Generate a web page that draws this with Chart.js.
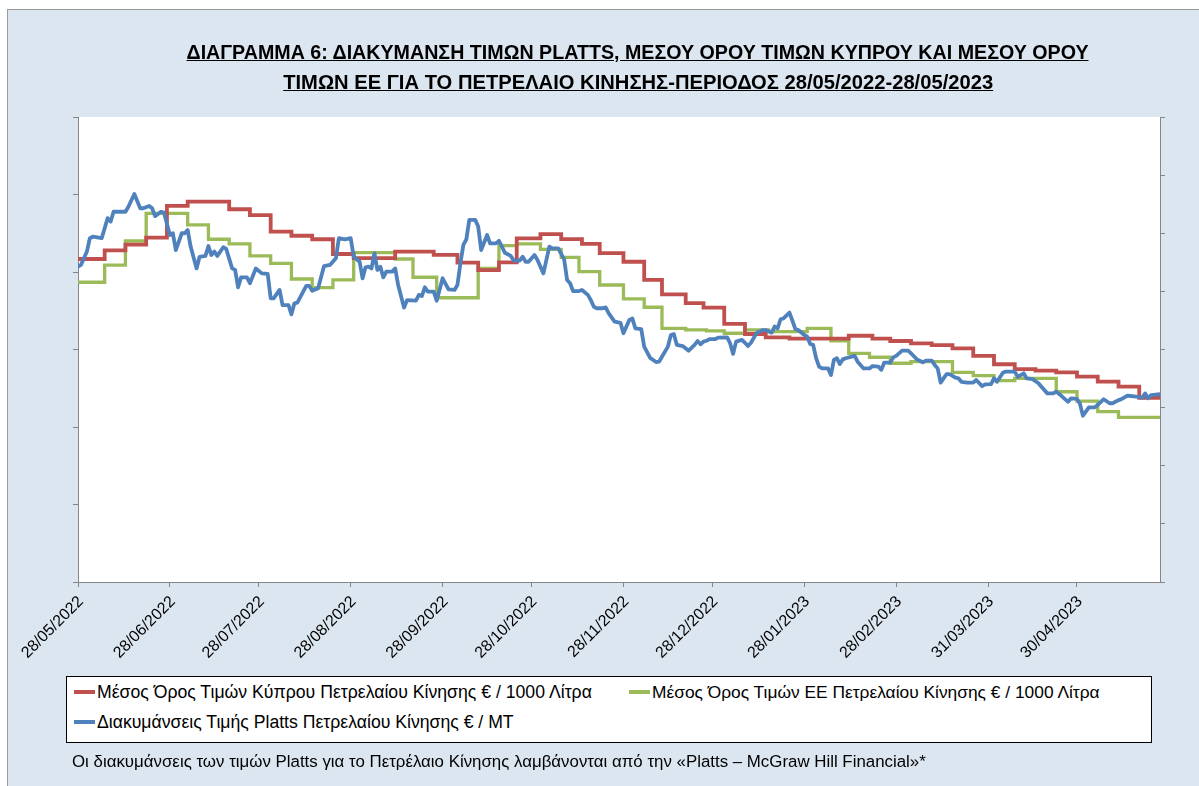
<!DOCTYPE html>
<html>
<head>
<meta charset="utf-8">
<script src="https://cdn.jsdelivr.net/npm/chart.js@4.4.0/dist/chart.umd.min.js"></script>
<style>
html,body{margin:0;padding:0;background:#fff;width:1199px;height:786px;overflow:hidden;font-family:"Liberation Sans",Arial,sans-serif;color:#000;}
#frame{position:absolute;left:7px;top:9px;width:1300px;height:900px;background:#DCE6F1;border-left:1.5px solid #9a9a9a;border-top:1.5px solid #9a9a9a;}
#c{position:absolute;left:0;top:0;}
.tline{position:absolute;left:0;width:1276px;text-align:center;white-space:nowrap;}
.tline span{display:inline-block;font-weight:bold;text-decoration:underline;font-size:19.5px;line-height:24px;transform-origin:50% 50%;}
#legend{position:absolute;left:66px;top:676px;width:1086px;height:67px;box-sizing:border-box;border:1px solid #000;background:#fff;}
.item{position:absolute;height:20px;display:flex;align-items:center;white-space:nowrap;}
.sw{width:21px;height:4px;margin-right:2px;}
.item span,.note span{display:inline-block;font-size:15px;line-height:20px;}
.note{position:absolute;left:72px;top:752px;height:20px;white-space:nowrap;}
</style>
</head>
<body>
<div id="frame"></div>
<canvas id="c" width="1199" height="786"></canvas>
<div class="tline" style="top:40px"><span id="t1"></span></div>
<div class="tline" style="top:70px"><span id="t2"></span></div>
<div id="legend"></div>
<div class="note"><span id="note"></span></div>
<script>
// ---- text ----
const titleLines = [
  'ΔΙΑΓΡΑΜΜΑ 6: ΔΙΑΚΥΜΑΝΣΗ ΤΙΜΩΝ PLATTS, ΜΕΣΟΥ ΟΡΟΥ ΤΙΜΩΝ ΚΥΠΡΟΥ ΚΑΙ ΜΕΣΟΥ ΟΡΟΥ',
  'ΤΙΜΩΝ ΕΕ ΓΙΑ ΤΟ ΠΕΤΡΕΛΑΙΟ ΚΙΝΗΣΗΣ-ΠΕΡΙΟΔΟΣ 28/05/2022-28/05/2023'
];
const seriesLabels = [
  'Μέσος Όρος Τιμών Κύπρου Πετρελαίου Κίνησης  € / 1000 Λίτρα',
  'Μέσος Όρος Τιμών ΕΕ Πετρελαίου Κίνησης  € / 1000 Λίτρα',
  'Διακυμάνσεις Τιμής Platts Πετρελαίου Κίνησης € / MT'
];
const footnote = 'Οι διακυμάνσεις των τιμών Platts για το Πετρέλαιο Κίνησης λαμβάνονται από την «Platts – McGraw Hill Financial»*';

// ---- axis ----
const tickLabels = ['28/05/2022','28/06/2022','28/07/2022','28/08/2022','28/09/2022','28/10/2022',
  '28/11/2022','28/12/2022','28/01/2023','28/02/2023','31/03/2023','30/04/2023'];
const startDate = '28/05/2022';
const endDate = '28/05/2023';

// ---- data (x = days since 28/05/2022) ----
const cyprusDays = [0,9,16,23,30,37,51,58,65,72,79,86,93,107,120,128,135,142,148,156,163,170,176,184,191,197,205,211,218,225,232,240,260,268,274,281,288,295,302,309,316,323,330,337,344,351,358,365];
const cyprusValues = [1667,1712,1741,1777,1941,1963,1924,1894,1808,1787,1769,1693,1672,1705,1688,1648,1610,1650,1774,1796,1770,1745,1697,1653,1559,1485,1439,1416,1332,1280,1263,1256,1271,1256,1244,1232,1223,1206,1167,1124,1099,1091,1082,1060,1034,1008,951,951];

const euDays = [0,9,16,23,37,44,51,58,65,72,79,86,93,107,113,121,135,142,148,156,163,169,176,184,191,197,205,212,218,225,233,246,254,260,267,274,281,295,302,309,316,330,337,344,351,365];
const euValues = [1547,1635,1760,1903,1843,1769,1745,1683,1645,1564,1519,1559,1700,1667,1573,1467,1619,1736,1745,1717,1676,1602,1533,1461,1418,1309,1301,1296,1284,1301,1292,1309,1245,1180,1160,1129,1137,1082,1065,1039,1051,982,934,879,850,850];

const plattsDays = [0,1,3,4,5,8,10,11,12,16,17,19,21,22,24,25,26,28,29,31,32,33,35,36,37,38,40,41,43,44,45,46,47,49,50,52,53,54,55,57,58,60,62,64,65,66,68,69,71,72,73,74,77,78,79,81,83,85,87,88,90,92,93,95,96,97,98,99,100,101,102,103,104,106,107,108,110,111,114,115,116,117,118,120,121,123,125,127,128,129,130,131,132,134,135,136,138,139,141,142,143,144,146,147,149,150,151,152,154,155,157,159,160,162,164,165,166,167,169,170,172,173,174,175,177,178,179,181,183,184,186,187,188,190,191,193,195,196,197,199,200,201,202,204,206,208,209,210,211,212,213,215,216,219,220,221,222,224,225,226,227,229,231,232,234,235,236,237,238,240,241,242,243,245,246,247,248,249,250,251,253,254,255,256,257,258,259,262,263,265,267,268,270,271,272,274,275,276,278,280,281,283,285,286,288,289,290,291,293,294,296,297,298,300,302,303,305,306,308,309,310,312,313,316,317,319,320,322,324,325,327,329,330,332,334,335,337,338,339,341,343,344,346,348,349,351,352,354,355,357,359,360,361,362,365];
const plattsValues = [1085,1091,1137,1183,1188,1183,1252,1240,1274,1274,1291,1335,1286,1286,1294,1286,1259,1274,1271,1194,1200,1142,1200,1200,1211,1154,1079,1119,1122,1156,1125,1137,1122,1152,1146,1079,1074,1014,1048,1048,1028,1079,1062,1060,976,976,1005,953,953,921,959,961,1019,1019,1002,1011,1087,1091,1114,1183,1179,1183,1119,1102,1045,1083,1085,1079,1131,1074,1085,1048,1068,1068,1079,1022,944,970,968,988,984,1014,999,999,968,1045,1007,1005,1022,1097,1160,1179,1246,1246,1223,1142,1194,1165,1165,1174,1154,1133,1122,1106,1106,1119,1102,1102,1125,1108,1062,1154,1148,1148,1110,1039,1028,1001,1001,1005,988,970,947,942,942,945,925,896,892,856,902,907,873,870,810,771,757,758,775,810,850,853,816,812,796,816,829,818,827,830,836,836,841,842,821,785,827,833,823,812,823,858,867,867,858,879,873,904,907,927,899,870,867,850,844,819,816,770,741,735,735,712,764,770,750,766,770,778,758,735,735,743,741,730,755,755,773,778,796,796,787,766,756,762,762,747,735,686,715,715,703,701,689,686,686,695,674,680,681,701,689,720,724,724,706,718,701,698,684,672,649,649,655,638,620,632,630,613,572,601,601,609,629,615,615,626,629,641,640,638,634,649,632,643,646];

const colors = ['#C0504D','#9BBB59','#4F81BD'];

function toUTC(s){const p=s.split('/').map(Number);return Date.UTC(p[2],p[1]-1,p[0]);}
function dayOf(s){return Math.round((toUTC(s)-toUTC(startDate))/86400000);}
const tickDays = tickLabels.map(dayOf);
const endDay = dayOf(endDate);
const pts = (xs, ys) => xs.map((x,i)=>({x:x,y:ys[i]}));

const FONT = '"Liberation Sans", Arial, sans-serif';
Chart.defaults.font.family = FONT;

const bgPlugin = {
  id:'bg',
  beforeDraw(chart){
    const {ctx, chartArea:a} = chart;
    ctx.save(); ctx.fillStyle='#fff'; ctx.fillRect(a.left,a.top,a.right-a.left,a.bottom-a.top); ctx.restore();
  }
};
// rotated date labels, positioned from the x scale
const dateLabelPlugin = {
  id:'dateLabels',
  afterDraw(chart){
    const {ctx} = chart; const sx = chart.scales.x;
    ctx.save();
    ctx.font = '16px ' + FONT; ctx.fillStyle = '#000';
    ctx.textAlign = 'right'; ctx.textBaseline = 'middle';
    tickDays.forEach((d,i)=>{
      const x = sx.getPixelForValue(d) + 3, y = sx.top + 17;
      ctx.save(); ctx.translate(x,y); ctx.rotate(-Math.PI/4); ctx.fillText(tickLabels[i],0,0); ctx.restore();
    });
    ctx.restore();
  }
};

const axisGray = '#868686';
new Chart(document.getElementById('c'), {
  type:'line',
  data:{datasets:[
    {label:seriesLabels[2], data:pts(plattsDays,plattsValues), yAxisID:'y1', borderColor:colors[2], borderWidth:3.8, pointRadius:0, tension:0, order:0, borderJoinStyle:'round', borderCapStyle:'round'},
    {label:seriesLabels[0], data:pts(cyprusDays,cyprusValues), yAxisID:'y', borderColor:colors[0], borderWidth:3.8, pointRadius:0, stepped:'before', order:1},
    {label:seriesLabels[1], data:pts(euDays,euValues), yAxisID:'y', borderColor:colors[1], borderWidth:3.3, pointRadius:0, stepped:'before', order:2}
  ]},
  options:{
    responsive:false, animation:false, devicePixelRatio:1,
    layout:{padding:{left:72,right:33,top:117,bottom:84}},
    plugins:{legend:{display:false}, title:{display:false}, tooltip:{enabled:false}},
    scales:{
      x:{type:'linear', min:0, max:endDay,
         afterBuildTicks:ax=>{ax.ticks = tickDays.map(v=>({value:v}));},
         ticks:{display:false},
         grid:{display:true, drawOnChartArea:false, drawTicks:true, tickLength:5, color:axisGray},
         border:{display:true, color:axisGray, width:1},
         afterFit:ax=>{ax.height=120;}},
      y:{position:'left', min:0, max:2400, ticks:{stepSize:400, display:false},
         grid:{drawOnChartArea:false, drawTicks:true, tickLength:5, color:axisGray},
         border:{display:true, color:axisGray, width:1},
         afterFit:ax=>{ax.width=6;}},
      y1:{position:'right', min:0, max:1600, ticks:{stepSize:200, display:false},
         grid:{drawOnChartArea:false, drawTicks:true, tickLength:5, color:axisGray},
         border:{display:true, color:axisGray, width:1},
         afterFit:ax=>{ax.width=6;}}
    }
  },
  plugins:[bgPlugin, dateLabelPlugin]
});

// ---- HTML texts ----
document.getElementById('t1').textContent = titleLines[0];
document.getElementById('t2').textContent = titleLines[1];
document.getElementById('note').textContent = footnote;
const legend = document.getElementById('legend');
const legendPos = [[7,5,0],[562,5,1],[7,35,2]]; // left, top inside box, series index
legendPos.forEach(([l,t,k])=>{
  const d=document.createElement('div'); d.className='item'; d.style.left=l+'px'; d.style.top=t+'px';
  const s=document.createElement('div'); s.className='sw'; s.style.background=colors[k];
  const sp=document.createElement('span'); sp.textContent=seriesLabels[k]; sp.id='lg'+k;
  d.appendChild(s); d.appendChild(sp); legend.appendChild(d);
});
function fit(id,target){const el=document.getElementById(id);const w=el.getBoundingClientRect().width;const fs=parseFloat(getComputedStyle(el).fontSize);el.style.fontSize=(fs*target/w)+'px';}
function squeeze(id,target){const el=document.getElementById(id);const w=el.getBoundingClientRect().width;el.style.transform='scaleX('+(target/w)+')';}
squeeze('t1',902); squeeze('t2',710);
fit('lg0',495); fit('lg1',448); fit('lg2',417); fit('note',854);
</script>
</body>
</html>
